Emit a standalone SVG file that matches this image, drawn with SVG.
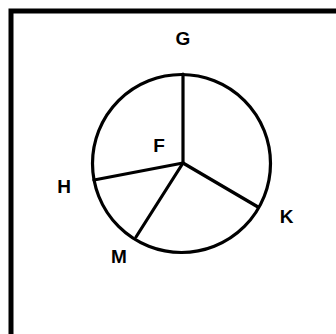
<svg xmlns="http://www.w3.org/2000/svg" width="336" height="334" viewBox="0 0 336 334">
<style>
.ln{fill:none;stroke:#000;stroke-width:3.2;stroke-linecap:round}
.lb{font-family:"Liberation Sans",Arial,sans-serif;font-weight:bold;font-size:19px;fill:#000;text-anchor:middle}
</style>
<rect width="336" height="334" fill="#fff"/>
<path d="M11,334 V11 H336" fill="none" stroke="#000" stroke-width="5"/>
<g id="circle"><circle class="ln" cx="181.5" cy="163.5" r="89"/></g>
<g id="connectors">
<line class="ln" x1="183" y1="163" x2="183" y2="74"/>
<line class="ln" x1="183" y1="163" x2="94" y2="180"/>
<line class="ln" x1="183" y1="163" x2="258" y2="207"/>
<line class="ln" x1="183" y1="163" x2="136" y2="237"/>
</g>
<g id="G"><text class="lb" x="183" y="45">G</text></g>
<g id="F"><text class="lb" x="159" y="152">F</text></g>
<g id="H"><text class="lb" x="64" y="193">H</text></g>
<g id="K"><text class="lb" x="286.5" y="223">K</text></g>
<g id="M"><text class="lb" x="119" y="263">M</text></g>
</svg>
